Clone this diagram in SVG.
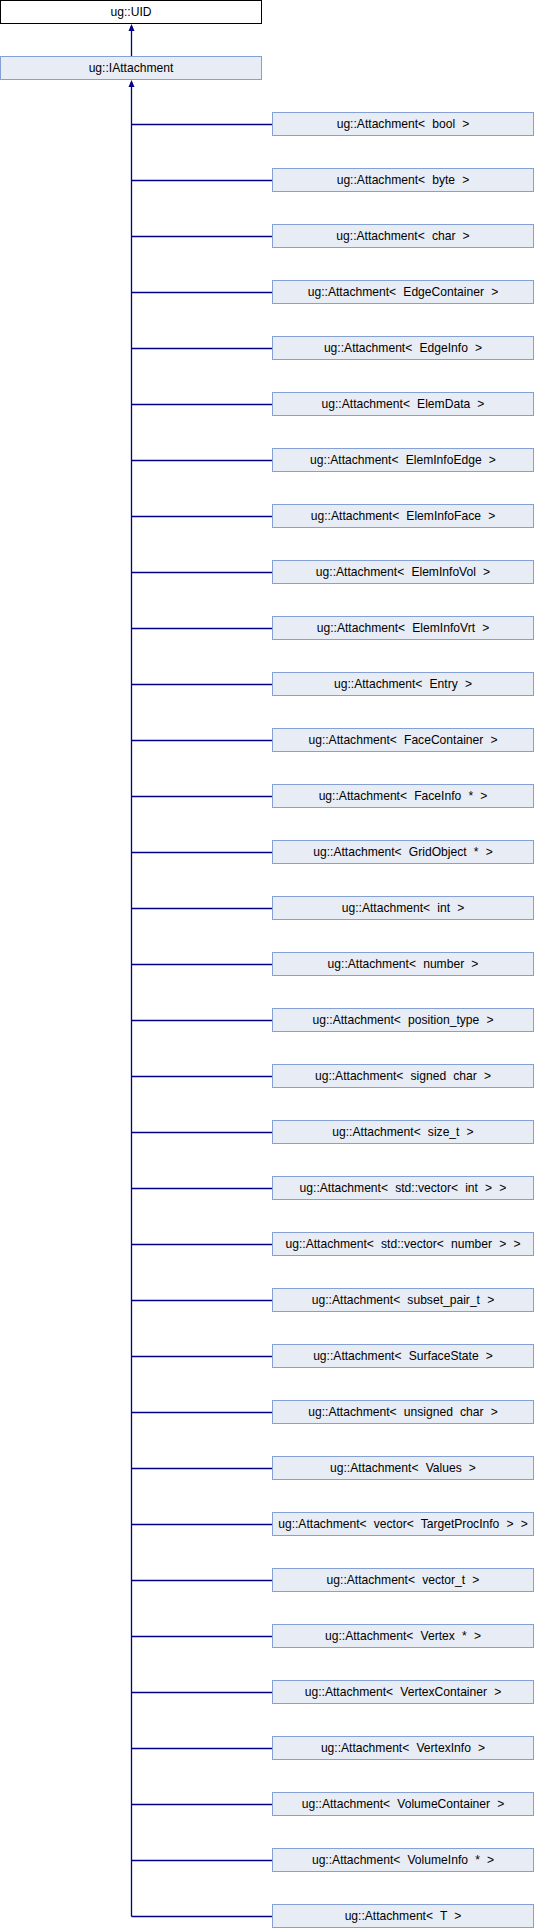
<svg xmlns="http://www.w3.org/2000/svg" width="534" height="1928" viewBox="0 0 534 1928">
<style>
.n rect{fill:#e8ecf4;stroke:#84a0d4;stroke-width:1}
.top rect{fill:#ffffff;stroke:#000000;stroke-width:1}
text{font-family:"Liberation Sans",Arial,sans-serif;font-size:12.1px;fill:#000000;text-anchor:middle;word-spacing:3.8px}
.e line{stroke:#000088;stroke-width:1.3}
.e polygon{fill:#000088;stroke:none}
</style>
<rect x="0" y="0" width="534" height="1928" fill="#ffffff"/>
<g class="e" id="connectors">
<line x1="131.5" y1="26" x2="131.5" y2="56.5"/>
<polygon points="131.5,24 128.5,31 134.5,31"/>
<line x1="131.5" y1="82" x2="131.5" y2="1916.5"/>
<polygon points="131.5,80 128.5,87 134.5,87"/>
<line x1="131.5" y1="124.5" x2="272.5" y2="124.5"/>
<line x1="131.5" y1="180.5" x2="272.5" y2="180.5"/>
<line x1="131.5" y1="236.5" x2="272.5" y2="236.5"/>
<line x1="131.5" y1="292.5" x2="272.5" y2="292.5"/>
<line x1="131.5" y1="348.5" x2="272.5" y2="348.5"/>
<line x1="131.5" y1="404.5" x2="272.5" y2="404.5"/>
<line x1="131.5" y1="460.5" x2="272.5" y2="460.5"/>
<line x1="131.5" y1="516.5" x2="272.5" y2="516.5"/>
<line x1="131.5" y1="572.5" x2="272.5" y2="572.5"/>
<line x1="131.5" y1="628.5" x2="272.5" y2="628.5"/>
<line x1="131.5" y1="684.5" x2="272.5" y2="684.5"/>
<line x1="131.5" y1="740.5" x2="272.5" y2="740.5"/>
<line x1="131.5" y1="796.5" x2="272.5" y2="796.5"/>
<line x1="131.5" y1="852.5" x2="272.5" y2="852.5"/>
<line x1="131.5" y1="908.5" x2="272.5" y2="908.5"/>
<line x1="131.5" y1="964.5" x2="272.5" y2="964.5"/>
<line x1="131.5" y1="1020.5" x2="272.5" y2="1020.5"/>
<line x1="131.5" y1="1076.5" x2="272.5" y2="1076.5"/>
<line x1="131.5" y1="1132.5" x2="272.5" y2="1132.5"/>
<line x1="131.5" y1="1188.5" x2="272.5" y2="1188.5"/>
<line x1="131.5" y1="1244.5" x2="272.5" y2="1244.5"/>
<line x1="131.5" y1="1300.5" x2="272.5" y2="1300.5"/>
<line x1="131.5" y1="1356.5" x2="272.5" y2="1356.5"/>
<line x1="131.5" y1="1412.5" x2="272.5" y2="1412.5"/>
<line x1="131.5" y1="1468.5" x2="272.5" y2="1468.5"/>
<line x1="131.5" y1="1524.5" x2="272.5" y2="1524.5"/>
<line x1="131.5" y1="1580.5" x2="272.5" y2="1580.5"/>
<line x1="131.5" y1="1636.5" x2="272.5" y2="1636.5"/>
<line x1="131.5" y1="1692.5" x2="272.5" y2="1692.5"/>
<line x1="131.5" y1="1748.5" x2="272.5" y2="1748.5"/>
<line x1="131.5" y1="1804.5" x2="272.5" y2="1804.5"/>
<line x1="131.5" y1="1860.5" x2="272.5" y2="1860.5"/>
<line x1="131.5" y1="1916.5" x2="272.5" y2="1916.5"/>
</g>
<g class="top" id="n_uid"><rect x="0.5" y="0.5" width="261" height="23"/><text x="131" y="16">ug::UID</text></g>
<g class="n" id="n_iattachment"><rect x="0.5" y="56.5" width="261" height="23"/><text x="131" y="72">ug::IAttachment</text></g>
<g class="n" id="n0"><rect x="272.5" y="112.5" width="261" height="23"/><text x="403" y="128">ug::Attachment&lt; bool &gt;</text></g>
<g class="n" id="n1"><rect x="272.5" y="168.5" width="261" height="23"/><text x="403" y="184">ug::Attachment&lt; byte &gt;</text></g>
<g class="n" id="n2"><rect x="272.5" y="224.5" width="261" height="23"/><text x="403" y="240">ug::Attachment&lt; char &gt;</text></g>
<g class="n" id="n3"><rect x="272.5" y="280.5" width="261" height="23"/><text x="403" y="296">ug::Attachment&lt; EdgeContainer &gt;</text></g>
<g class="n" id="n4"><rect x="272.5" y="336.5" width="261" height="23"/><text x="403" y="352">ug::Attachment&lt; EdgeInfo &gt;</text></g>
<g class="n" id="n5"><rect x="272.5" y="392.5" width="261" height="23"/><text x="403" y="408">ug::Attachment&lt; ElemData &gt;</text></g>
<g class="n" id="n6"><rect x="272.5" y="448.5" width="261" height="23"/><text x="403" y="464">ug::Attachment&lt; ElemInfoEdge &gt;</text></g>
<g class="n" id="n7"><rect x="272.5" y="504.5" width="261" height="23"/><text x="403" y="520">ug::Attachment&lt; ElemInfoFace &gt;</text></g>
<g class="n" id="n8"><rect x="272.5" y="560.5" width="261" height="23"/><text x="403" y="576">ug::Attachment&lt; ElemInfoVol &gt;</text></g>
<g class="n" id="n9"><rect x="272.5" y="616.5" width="261" height="23"/><text x="403" y="632">ug::Attachment&lt; ElemInfoVrt &gt;</text></g>
<g class="n" id="n10"><rect x="272.5" y="672.5" width="261" height="23"/><text x="403" y="688">ug::Attachment&lt; Entry &gt;</text></g>
<g class="n" id="n11"><rect x="272.5" y="728.5" width="261" height="23"/><text x="403" y="744">ug::Attachment&lt; FaceContainer &gt;</text></g>
<g class="n" id="n12"><rect x="272.5" y="784.5" width="261" height="23"/><text x="403" y="800">ug::Attachment&lt; FaceInfo * &gt;</text></g>
<g class="n" id="n13"><rect x="272.5" y="840.5" width="261" height="23"/><text x="403" y="856">ug::Attachment&lt; GridObject * &gt;</text></g>
<g class="n" id="n14"><rect x="272.5" y="896.5" width="261" height="23"/><text x="403" y="912">ug::Attachment&lt; int &gt;</text></g>
<g class="n" id="n15"><rect x="272.5" y="952.5" width="261" height="23"/><text x="403" y="968">ug::Attachment&lt; number &gt;</text></g>
<g class="n" id="n16"><rect x="272.5" y="1008.5" width="261" height="23"/><text x="403" y="1024">ug::Attachment&lt; position_type &gt;</text></g>
<g class="n" id="n17"><rect x="272.5" y="1064.5" width="261" height="23"/><text x="403" y="1080">ug::Attachment&lt; signed char &gt;</text></g>
<g class="n" id="n18"><rect x="272.5" y="1120.5" width="261" height="23"/><text x="403" y="1136">ug::Attachment&lt; size_t &gt;</text></g>
<g class="n" id="n19"><rect x="272.5" y="1176.5" width="261" height="23"/><text x="403" y="1192">ug::Attachment&lt; std::vector&lt; int &gt; &gt;</text></g>
<g class="n" id="n20"><rect x="272.5" y="1232.5" width="261" height="23"/><text x="403" y="1248">ug::Attachment&lt; std::vector&lt; number &gt; &gt;</text></g>
<g class="n" id="n21"><rect x="272.5" y="1288.5" width="261" height="23"/><text x="403" y="1304">ug::Attachment&lt; subset_pair_t &gt;</text></g>
<g class="n" id="n22"><rect x="272.5" y="1344.5" width="261" height="23"/><text x="403" y="1360">ug::Attachment&lt; SurfaceState &gt;</text></g>
<g class="n" id="n23"><rect x="272.5" y="1400.5" width="261" height="23"/><text x="403" y="1416">ug::Attachment&lt; unsigned char &gt;</text></g>
<g class="n" id="n24"><rect x="272.5" y="1456.5" width="261" height="23"/><text x="403" y="1472">ug::Attachment&lt; Values &gt;</text></g>
<g class="n" id="n25"><rect x="272.5" y="1512.5" width="261" height="23"/><text x="403" y="1528">ug::Attachment&lt; vector&lt; TargetProcInfo &gt; &gt;</text></g>
<g class="n" id="n26"><rect x="272.5" y="1568.5" width="261" height="23"/><text x="403" y="1584">ug::Attachment&lt; vector_t &gt;</text></g>
<g class="n" id="n27"><rect x="272.5" y="1624.5" width="261" height="23"/><text x="403" y="1640">ug::Attachment&lt; Vertex * &gt;</text></g>
<g class="n" id="n28"><rect x="272.5" y="1680.5" width="261" height="23"/><text x="403" y="1696">ug::Attachment&lt; VertexContainer &gt;</text></g>
<g class="n" id="n29"><rect x="272.5" y="1736.5" width="261" height="23"/><text x="403" y="1752">ug::Attachment&lt; VertexInfo &gt;</text></g>
<g class="n" id="n30"><rect x="272.5" y="1792.5" width="261" height="23"/><text x="403" y="1808">ug::Attachment&lt; VolumeContainer &gt;</text></g>
<g class="n" id="n31"><rect x="272.5" y="1848.5" width="261" height="23"/><text x="403" y="1864">ug::Attachment&lt; VolumeInfo * &gt;</text></g>
<g class="n" id="n32"><rect x="272.5" y="1904.5" width="261" height="23"/><text x="403" y="1920">ug::Attachment&lt; T &gt;</text></g>
</svg>
